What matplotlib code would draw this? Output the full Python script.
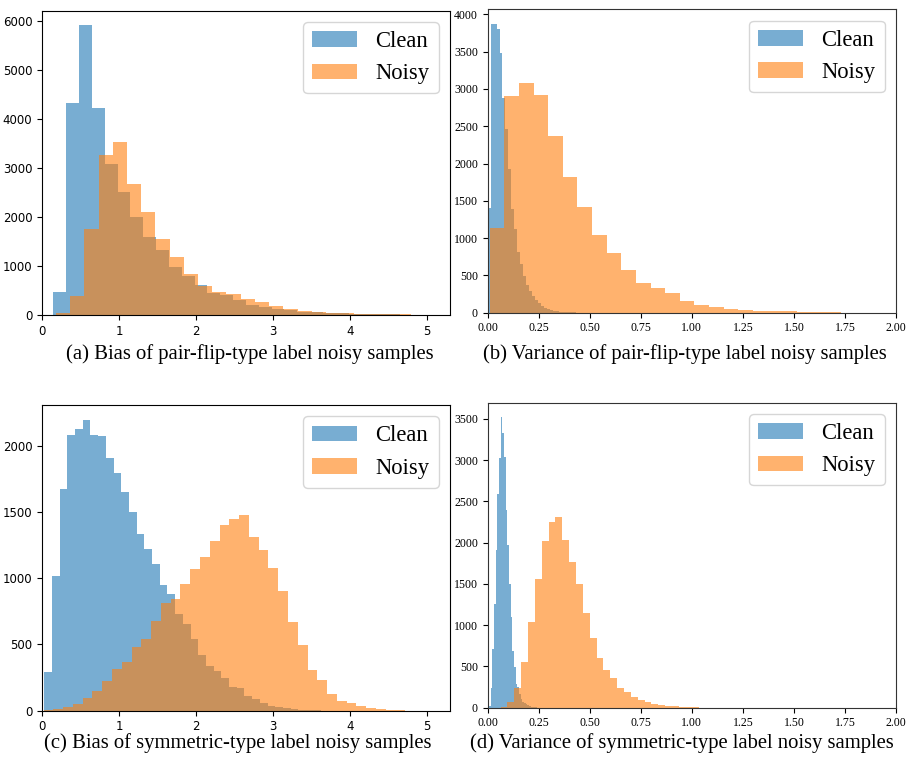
import numpy as np
import matplotlib
matplotlib.use("Agg")
import matplotlib.pyplot as plt

SERIF = "Liberation Serif"

#%% counts (bins = lo, hi, number of bins)
# (a) bias, pair-flip noise
a_clean_rng = (0.147, 5.15)
a_clean = [470, 4323, 5918, 4227, 3089, 2516, 2004, 1602, 1330, 975,
           791, 614, 457, 416, 307, 205, 170, 116, 109, 68,
           55, 41, 34, 27, 20, 14, 14, 7, 5, 3]
a_noisy_rng = (0.18, 5.72)
a_noisy = [34, 395, 1752, 3259, 3532, 2673, 2107, 1555, 1180, 832,
           600, 470, 430, 320, 259, 191, 116, 82, 55, 41,
           34, 20, 20, 14, 14, 3, 2, 1, 0, 1]

# (b) variance, pair-flip noise
b_clean_rng = (0.0, 0.723)
b_clean = [1410, 3870, 3875, 3807, 3480, 2885, 2462, 1924, 1395, 1117,
           812, 655, 489, 372, 287, 229, 166, 126, 85, 67,
           49, 36, 25, 20, 15, 11, 8, 6, 4, 3,
           2, 2, 1, 1, 1, 0, 1, 0, 0, 0,
           0, 0, 0, 0, 0, 0, 0, 0, 0, 1]
b_noisy_rng = (0.0098, 2.158)
b_noisy = [1136, 2902, 3083, 2921, 2367, 1825, 1414, 1047, 801, 573,
           403, 327, 268, 161, 103, 72, 45, 36, 27, 22,
           18, 9, 4, 3, 2, 1, 1, 0, 0, 1]

# (c) bias, symmetric noise
c_clean_rng = (0.03, 4.03)
c_clean = [292, 1013, 1673, 2078, 2128, 2197, 2083, 2071, 1907, 1794,
           1650, 1501, 1330, 1219, 1108, 947, 882, 728, 652, 544,
           421, 338, 300, 249, 181, 169, 111, 86, 60, 38,
           25, 18, 15, 6, 3, 2, 1, 1, 0, 1]
c_noisy_rng = (0.02, 5.10)
c_noisy = [3, 10, 25, 53, 93, 149, 222, 312, 370, 481,
           542, 678, 811, 846, 957, 1068, 1159, 1280, 1400, 1443,
           1474, 1307, 1214, 1076, 902, 670, 494, 307, 229, 128,
           76, 55, 33, 20, 10, 5, 2, 1, 1, 1]

# (d) variance, symmetric noise
d_clean_rng = (0.0065, 0.415)
d_clean = [20, 239, 709, 1260, 1908, 2585, 3023, 3521, 3327, 3035,
           2395, 1977, 1503, 1098, 685, 490, 288, 247, 166, 105,
           73, 61, 45, 32, 20, 12, 8, 5, 3, 2,
           2, 1, 1, 1, 0, 0, 1, 0, 0, 0,
           0, 0, 0, 0, 0, 0, 0, 0, 0, 1]
d_noisy_rng = (0.063, 1.071)
d_noisy = [12, 73, 239, 559, 1033, 1556, 2022, 2249, 2306, 2034,
           1771, 1495, 1147, 839, 608, 458, 357, 239, 190, 130,
           97, 69, 45, 32, 24, 16, 10, 6, 4, 2]

captions = ["(a) Bias of pair-flip-type label noisy samples",
            "(b) Variance of pair-flip-type label noisy samples",
            "(c) Bias of symmetric-type label noisy samples",
            "(d) Variance of symmetric-type label noisy samples"]

W, H = 921, 765
fig = plt.figure(figsize=(W/100, H/100), dpi=100)

def box(l, t, r, b):
    return [l/W, 1 - b/H, (r - l)/W, (b - t)/H]

def hist(ax, counts, rng, color, label):
    edges = np.linspace(rng[0], rng[1], len(counts) + 1)
    ax.hist(edges[:-1], bins=edges, weights=counts, color=color,
            alpha=0.6, label=label)

panels = [
    (box(42, 10.7, 450, 315), a_clean, a_clean_rng, a_noisy, a_noisy_rng, (0, 5.3), False),
    (box(487.7, 9.3, 896, 312.7), b_clean, b_clean_rng, b_noisy, b_noisy_rng, (0, 2), True),
    (box(42, 405, 450, 710.7), c_clean, c_clean_rng, c_noisy, c_noisy_rng, (0, 5.3), False),
    (box(487.7, 402.7, 896, 707.7), d_clean, d_clean_rng, d_noisy, d_noisy_rng, (0, 2), True),
]

for rect, cl, crng, ns, nrng, xl, serif in panels:
    ax = fig.add_axes(rect)
    hist(ax, cl, crng, "tab:blue", "Clean")
    hist(ax, ns, nrng, "tab:orange", "Noisy")
    ax.set_xlim(*xl)
    if serif:
        ax.set_xticks(np.arange(0, 2.01, 0.25))
        ax.xaxis.set_major_formatter(matplotlib.ticker.FormatStrFormatter("%.2f"))
        for t in ax.get_xticklabels() + ax.get_yticklabels():
            t.set_fontfamily(SERIF)
            t.set_fontsize(8.6)
        for s in ax.spines.values():
            s.set_edgecolor("#333333")
    else:
        ax.tick_params(labelsize=8.5)
    ax.legend(loc="upper right", prop={"family": SERIF, "size": 16.3})

# captions under each panel
cap_pos = [(250, 354), (685, 354), (238, 743), (682, 743)]
for txt, (cx, cy) in zip(captions, cap_pos):
    fig.text(cx/W, 1 - cy/H, txt, ha="center", va="center",
             family=SERIF, fontsize=14.9)

fig.savefig("out.png", dpi=100)
